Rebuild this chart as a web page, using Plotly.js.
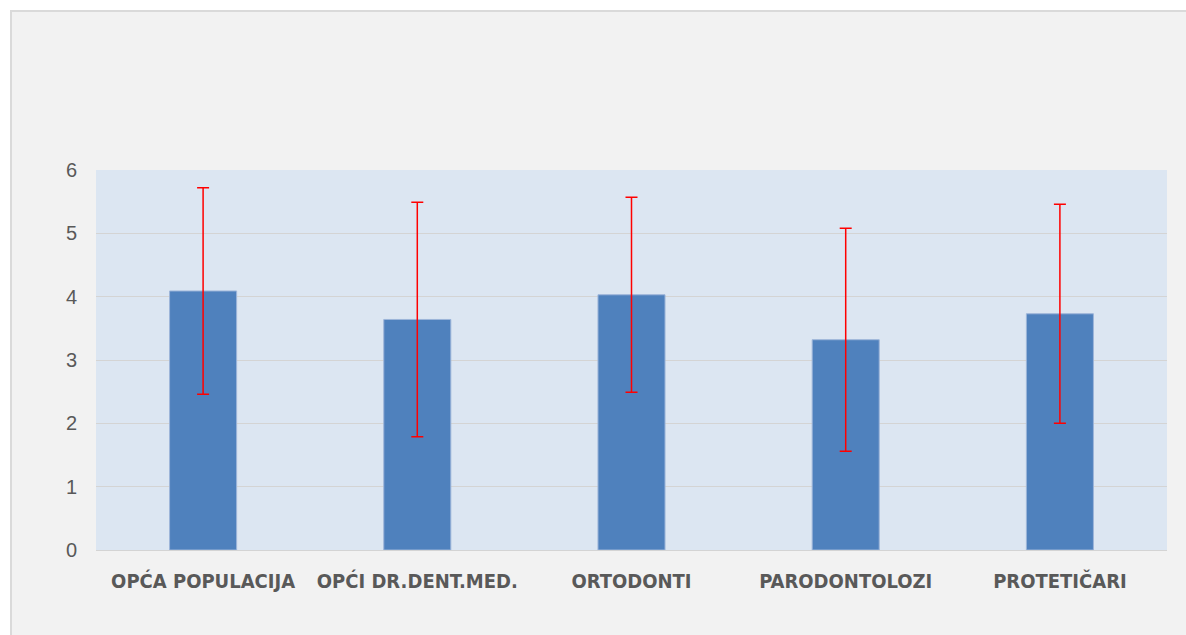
<!DOCTYPE html>
<html>
<head>
<meta charset="utf-8">
<script src="https://cdn.plot.ly/plotly-3.0.1.min.js"></script>
<style>
  html, body { margin: 0; padding: 0; background: #ffffff; width: 1186px; height: 635px; overflow: hidden; }
  #frame { position: absolute; left: 10px; top: 10px; width: 1176px; height: 625px;
           border-left: 2px solid #dadada; border-top: 2px solid #dadada; background: #f2f2f2; }
  #chart { width: 1174px; height: 623px; }
</style>
</head>
<body>
<div id="frame"><div id="chart"></div></div>
<script>
const categories = ["OPĆA POPULACIJA", "OPĆI DR.DENT.MED.", "ORTODONTI", "PARODONTOLOZI", "PROTETIČARI"];
const means = [4.09, 3.64, 4.03, 3.32, 3.73];
const sds = [1.63, 1.85, 1.54, 1.76, 1.73];
const yTicks = [0, 1, 2, 3, 4, 5, 6];

const trace = {
  type: "bar",
  x: categories,
  y: means,
  marker: { color: "#4f81bd", line: { color: "#9db5d9", width: 1 } },
  error_y: { type: "data", array: sds, visible: true, color: "#ff0000", thickness: 1.5, width: 6 },
  hoverinfo: "none"
};

const layout = {
  width: 1174,
  height: 623,
  margin: { l: 84, r: 19, t: 158, b: 85 },
  paper_bgcolor: "#f2f2f2",
  plot_bgcolor: "#dce6f2",
  bargap: 0.687,
  showlegend: false,
  xaxis: {
    type: "category",
    showgrid: false,
    zeroline: false,
    showline: false,
    ticks: "",
    ticklabelstandoff: 17,
    tickfont: { family: "'Liberation Sans Narrow', 'DejaVu Sans Condensed', 'Liberation Sans', sans-serif", size: 20, color: "#595959", weight: "bold" }
  },
  yaxis: {
    range: [0, 6],
    tickvals: yTicks,
    ticktext: yTicks.map(String),
    showgrid: true,
    gridcolor: "#d4d4d4",
    gridwidth: 1,
    zeroline: true,
    zerolinecolor: "#d4d4d4",
    zerolinewidth: 1,
    showline: false,
    ticks: "",
    ticklabelstandoff: 18,
    tickfont: { family: "'Liberation Sans', 'DejaVu Sans', sans-serif", size: 20, color: "#595959" }
  }
};

Plotly.newPlot("chart", [trace], layout, { displayModeBar: false, staticPlot: true });
</script>
</body>
</html>
